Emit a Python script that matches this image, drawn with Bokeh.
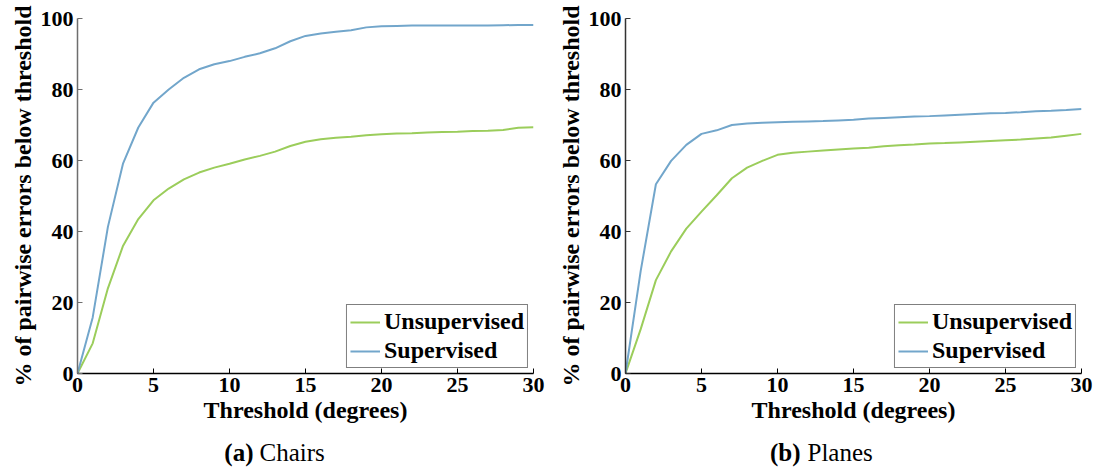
from bokeh.plotting import figure
from bokeh.models import Range1d, FixedTicker
from bokeh.core.properties import value
from bokeh.layouts import row, column
from bokeh.embed import file_html
from bokeh.resources import INLINE

thresholds = list(range(0, 31))

chairs_unsup = [0, 8.5, 24.0, 36.0, 43.5, 48.8, 52.1, 54.7, 56.6, 58.0, 59.1, 60.3, 61.3, 62.5, 64.1, 65.3,
                66.0, 66.4, 66.7, 67.1, 67.4, 67.6, 67.7, 67.9, 68.0, 68.1, 68.3, 68.4, 68.6, 69.2, 69.4]
chairs_sup = [0, 15.8, 41.3, 59.2, 69.3, 76.3, 80.0, 83.3, 85.7, 87.1, 88.0, 89.2, 90.2, 91.6, 93.6, 95.1,
              95.8, 96.3, 96.7, 97.5, 97.8, 97.9, 98.0, 98.0, 98.0, 98.0, 98.0, 98.0, 98.1, 98.2, 98.2]
planes_unsup = [0, 12.5, 26.3, 34.4, 40.8, 45.6, 50.2, 55.0, 58.0, 59.9, 61.6, 62.2, 62.5, 62.8, 63.1, 63.4,
                63.6, 64.0, 64.3, 64.5, 64.8, 64.9, 65.1, 65.3, 65.5, 65.7, 65.9, 66.2, 66.5, 67.0, 67.5]
planes_sup = [0, 28.9, 53.3, 59.9, 64.4, 67.5, 68.5, 70.0, 70.4, 70.6, 70.8, 70.9, 71.0, 71.1, 71.3, 71.5,
              71.8, 72.0, 72.2, 72.4, 72.5, 72.7, 72.9, 73.1, 73.3, 73.4, 73.6, 73.9, 74.0, 74.2, 74.5]

x_ticks = [0, 5, 10, 15, 20, 25, 30]
y_ticks = [0, 20, 40, 60, 80, 100]

series_names = ["Unsupervised", "Supervised"]
caption_tags = ["(a)", "(b)"]
caption_names = ["Chairs", "Planes"]

GREEN = "#9bcd5b"
BLUE = "#72a6cb"
FONT = "Liberation Serif"


def make_panel(unsup, sup, left_border, right_border, yaxis_color):
    p = figure(width=left_border + 456 + right_border, height=433,
               x_range=Range1d(0, 30), y_range=Range1d(0, 100),
               output_backend="svg", toolbar_location=None,
               min_border_left=left_border, min_border_right=right_border,
               min_border_top=18, min_border_bottom=60)
    p.outline_line_color = None
    p.grid.visible = False
    p.background_fill_color = "white"
    p.border_fill_color = "white"

    p.line(thresholds, unsup, line_color=GREEN, line_width=2, legend_label=series_names[0])
    p.line(thresholds, sup, line_color=BLUE, line_width=2, legend_label=series_names[1])

    p.xaxis.ticker = FixedTicker(ticks=x_ticks)
    p.yaxis.ticker = FixedTicker(ticks=y_ticks)
    for ax in (p.xaxis, p.yaxis):
        ax.major_tick_in = 5
        ax.major_tick_out = 0
        ax.minor_tick_in = 0
        ax.minor_tick_out = 0
        ax.major_label_text_font = FONT
        ax.major_label_text_font_style = "bold"
        ax.major_label_text_font_size = "22px"
        ax.major_label_text_color = "black"
        ax.axis_label_text_font = FONT
        ax.axis_label_text_font_style = "bold"
        ax.axis_label_text_font_size = "24px"
        ax.axis_label_text_color = "black"
        ax.major_label_standoff = 4
        ax.axis_label_standoff = 2
    p.xaxis.axis_line_color = "black"
    p.xaxis.major_tick_line_color = "black"
    p.xaxis.axis_line_width = 1.5
    p.yaxis.axis_line_color = yaxis_color
    p.yaxis.major_tick_line_color = yaxis_color
    p.yaxis.axis_line_width = 1.5
    p.xaxis.axis_label = "Threshold (degrees)"
    p.yaxis.axis_label = "% of pairwise errors below threshold"

    lg = p.legend[0]
    lg.location = "bottom_right"
    lg.margin = 5
    lg.padding = 3
    lg.spacing = 2
    lg.glyph_width = 30
    lg.label_standoff = 4
    lg.label_text_font = FONT
    lg.label_text_font_style = "bold"
    lg.label_text_font_size = "24px"
    lg.label_text_color = "black"
    lg.border_line_color = "black"
    lg.border_line_width = 1.5
    lg.background_fill_alpha = 1.0
    return p


p1 = make_panel(chairs_unsup, chairs_sup, 77, 20, "#6e6e6e")
p2 = make_panel(planes_unsup, planes_sup, 72, 25, "#333333")

# caption strip under both panels
cap = figure(width=1106, height=40, x_range=Range1d(0, 1106), y_range=Range1d(0, 40),
             output_backend="svg", toolbar_location=None, min_border=0,
             x_axis_type=None, y_axis_type=None)
cap.outline_line_color = None
cap.grid.visible = False
tag_x = [253, 800]
name_x = [259, 807]
cap.text(x=tag_x, y=[21, 21], text=caption_tags, text_align="right", text_baseline="middle",
         text_font=value(FONT), text_font_style="bold", text_font_size="25px", text_color="black")
cap.text(x=name_x, y=[21, 21], text=caption_names, text_align="left", text_baseline="middle",
         text_font=value(FONT), text_font_style="normal", text_font_size="25px", text_color="black")

layout = column(row(p1, p2), cap)
open("out.html", "w").write(file_html(layout, INLINE))
